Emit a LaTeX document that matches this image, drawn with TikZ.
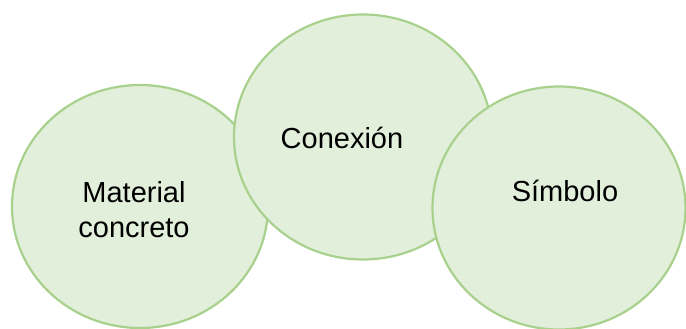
\documentclass[tikz,border=0pt]{standalone}
\usepackage{fontspec}
\setmainfont{Liberation Sans}
\usetikzlibrary{shapes.geometric}
\definecolor{bubfill}{HTML}{E2EFDA}
\definecolor{bubline}{HTML}{A9D18E}
\begin{document}
\begin{tikzpicture}[x=1pt,y=-1pt,
  bubble/.style={ellipse, draw=bubline, fill=bubfill, line width=2.2pt, inner sep=0pt, outer sep=0pt},
  lbl/.style={inner sep=0pt, outer sep=0pt, align=center, font=\fontsize{29}{35}\selectfont, text=black}]
\useasboundingbox (0,0) rectangle (686,329);
\begin{scope}
\clip (0,0) rectangle (686,329);
\node[bubble, minimum width=256pt, minimum height=243pt] (mat) at (140,206.5) {};
\node[bubble, minimum width=258pt, minimum height=245pt] (con) at (363,137) {};
\node[bubble, minimum width=253pt, minimum height=243pt] (sim) at (559,208) {};
\end{scope}
\node[lbl, anchor=base] (matT) at (134,237) {Material\\concreto};
\node[lbl, anchor=base] (conT) at (342,148) {Conexión};
\node[lbl, anchor=base] (simT) at (565,201) {Símbolo};
\end{tikzpicture}
\end{document}
